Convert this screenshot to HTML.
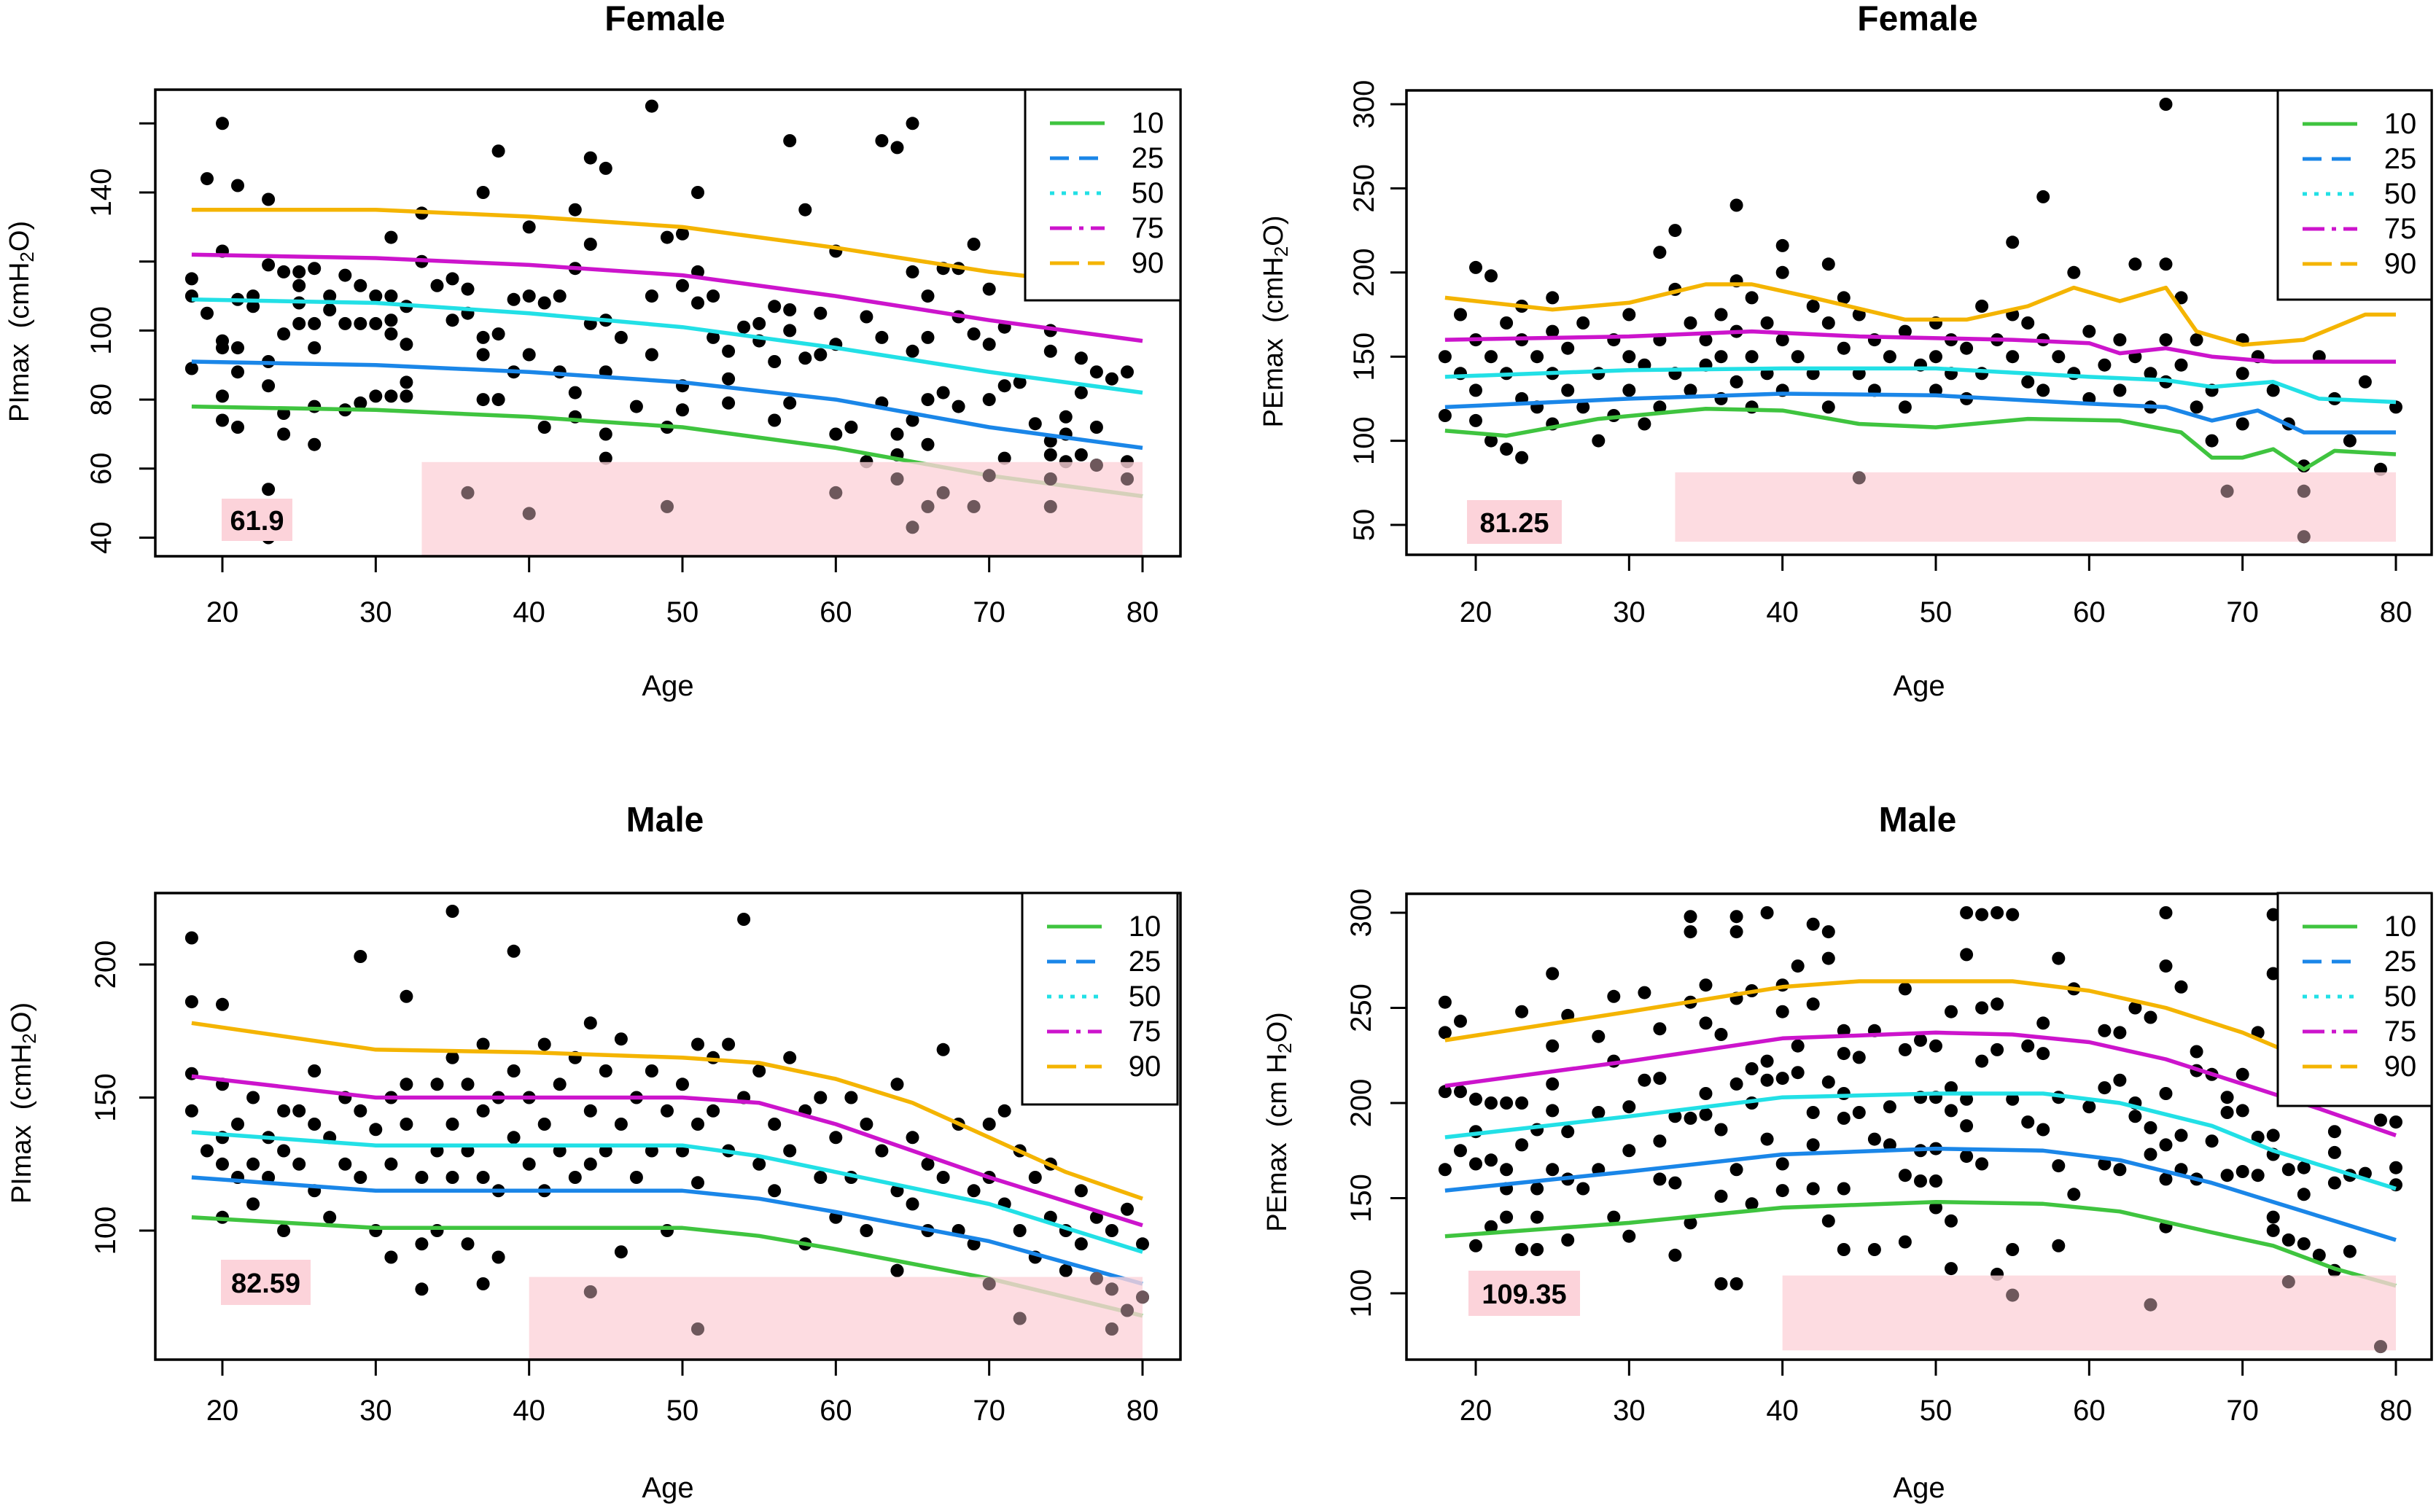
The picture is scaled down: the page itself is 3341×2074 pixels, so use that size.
<!DOCTYPE html>
<html><head><meta charset="utf-8"><style>
html,body{margin:0;padding:0;background:#fff;}
svg{display:block;font-family:"Liberation Sans",Arial,sans-serif;}
</style></head><body>
<svg id="chart" width="3341" height="2074" viewBox="0 0 3341 2074" xmlns="http://www.w3.org/2000/svg"></svg>
<script>
// ---------- DATA ----------
const xTicks = [20,30,40,50,60,70,80];
const percentiles = ["10","25","50","75","90"];

const tlTicks = [40,60,80,100,120,140,160];
const tlTickLabels = ["40","60","80","100","","140",""];
const tlCurveAges = [[18,30,40,50,60,65,70,75,80],[18,30,40,50,60,70,80],[18,30,40,50,60,70,80],[18,30,40,50,60,70,80],[18,30,40,50,60,70,80]];
const tlCurveVals = [[78,77,75,72,66,62,58,55,52],[91,90,88,85,80,72,66],[109,108,105,101,95,88,82],[122,121,119,116,110,103,97],[135,135,133,130,124,117,112]];
const tlPoints = [[18,115],[18,110],[18,89],[19,105],[19,144],[20,160],[20,123],[20,97],[20,95],[20,81],[20,74],[21,142],[21,109],[21,95],[21,72],[21,88],[22,110],[22,107],[23,138],[23,119],[23,91],[23,84],[23,54],[23,40],[24,117],[24,99],[24,76],[24,70],[25,117],[25,113],[25,108],[25,102],[26,118],[26,102],[26,95],[26,78],[26,67],[27,110],[27,106],[28,116],[28,102],[28,77],[29,113],[29,102],[29,79],[30,110],[30,102],[30,81],[31,127],[31,110],[31,103],[31,99],[31,81],[32,107],[32,96],[32,85],[32,81],[33,134],[33,120],[34,113],[35,115],[35,103],[36,112],[36,105],[37,140],[37,98],[37,93],[37,80],[38,152],[38,99],[38,80],[39,109],[39,88],[40,130],[40,110],[40,93],[41,108],[41,72],[42,110],[42,88],[43,135],[43,118],[43,82],[43,75],[44,150],[44,125],[44,102],[45,147],[45,103],[45,88],[45,70],[45,63],[46,98],[47,78],[48,165],[48,110],[48,93],[49,127],[49,72],[50,128],[50,113],[50,84],[50,77],[51,140],[51,117],[51,108],[52,110],[52,98],[53,94],[53,86],[53,79],[54,101],[55,97],[55,102],[56,107],[56,91],[56,74],[57,155],[57,106],[57,100],[57,79],[58,135],[58,92],[59,105],[59,93],[60,96],[60,70],[60,123],[61,72],[62,104],[62,62],[63,155],[63,98],[63,79],[64,153],[64,70],[64,64],[65,160],[65,117],[65,94],[65,74],[66,110],[66,98],[66,80],[66,67],[67,118],[67,82],[68,118],[68,104],[68,78],[69,125],[69,99],[70,112],[70,96],[70,80],[71,101],[71,84],[71,63],[72,85],[73,73],[74,100],[74,94],[74,68],[74,64],[75,75],[75,70],[76,92],[76,82],[76,64],[77,88],[77,72],[78,86],[79,88],[79,62],[36,53],[40,47],[49,49],[60,53],[64,57],[65,43],[66,49],[67,53],[69,49],[70,58],[74,57],[74,49],[79,57],[75,62],[77,61]];

const trTicks = [50,100,150,200,250,300];
const trTickLabels = ["50","100","150","200","250","300"];
const trCurveAges = [[18,22,28,35,40,45,50,56,62,66,68,70,72,74,76,80],[18,30,40,50,60,65,68,71,74,80],[18,30,40,50,60,65,68,72,75,80],[18,30,38,45,55,60,62,65,68,72,80],[18,25,30,35,38,42,48,52,56,59,62,65,67,70,74,78,80]];
const trCurveVals = [[106,103,113,119,118,110,108,113,112,105,90,90,95,83,94,92],[120,125,128,127,122,120,112,118,105,105],[138,142,143,143,138,136,132,135,125,123],[160,162,165,162,160,158,152,155,150,147,147],[185,178,182,193,193,185,172,172,180,191,183,191,165,157,160,175,175]];
const trPoints = [[18,150],[18,115],[19,175],[19,140],[20,203],[20,160],[20,130],[20,112],[21,198],[21,150],[21,100],[22,170],[22,140],[22,95],[23,180],[23,160],[23,125],[23,90],[24,150],[24,120],[25,185],[25,165],[25,140],[25,110],[26,155],[26,130],[27,170],[27,120],[28,140],[28,100],[29,160],[29,115],[30,175],[30,150],[30,130],[31,145],[31,110],[32,212],[32,160],[32,120],[33,225],[33,190],[33,140],[34,170],[34,130],[35,160],[35,145],[36,175],[36,150],[36,125],[37,240],[37,195],[37,165],[37,135],[38,185],[38,150],[38,120],[39,170],[39,140],[40,216],[40,200],[40,160],[40,130],[41,150],[42,180],[42,140],[43,205],[43,170],[43,120],[44,185],[44,155],[45,175],[45,140],[45,78],[46,160],[46,130],[47,150],[48,165],[48,120],[49,145],[50,170],[50,150],[50,130],[51,160],[51,140],[52,155],[52,125],[53,180],[53,140],[54,160],[55,218],[55,175],[55,150],[56,170],[56,135],[57,245],[57,160],[57,130],[58,150],[59,200],[59,140],[60,165],[60,125],[61,145],[62,160],[62,130],[63,205],[63,150],[64,140],[64,120],[65,300],[65,205],[65,160],[65,135],[66,185],[66,145],[67,160],[67,120],[68,130],[68,100],[69,70],[70,160],[70,140],[70,110],[71,150],[72,130],[73,110],[74,85],[74,70],[74,43],[75,150],[76,125],[77,100],[78,135],[79,83],[80,120]];

const blTicks = [100,150,200];
const blTickLabels = ["100","150","200"];
const blCurveAges = [[18,30,50,55,60,70,80],[18,30,50,55,60,70,80],[18,30,50,55,60,70,80],[18,30,50,55,60,65,70,80],[18,30,40,50,55,60,65,70,75,80]];
const blCurveVals = [[105,101,101,98,93,82,68],[120,115,115,112,107,96,80],[137,132,132,128,122,110,92],[158,150,150,148,140,130,120,102],[178,168,167,165,163,157,148,135,122,112]];
const blPoints = [[18,210],[18,186],[18,159],[18,145],[19,130],[20,185],[20,155],[20,135],[20,125],[20,105],[21,140],[21,120],[22,150],[22,125],[22,110],[23,135],[23,120],[24,145],[24,130],[24,100],[25,145],[25,125],[26,160],[26,140],[26,115],[27,135],[27,105],[28,150],[28,125],[29,203],[29,145],[29,120],[30,138],[30,100],[31,150],[31,125],[31,90],[32,188],[32,155],[32,140],[33,120],[33,95],[33,78],[34,155],[34,130],[34,100],[35,220],[35,165],[35,140],[35,120],[36,155],[36,130],[36,95],[37,170],[37,145],[37,120],[37,80],[38,150],[38,115],[38,90],[39,205],[39,160],[39,135],[40,150],[40,125],[41,170],[41,140],[41,115],[42,155],[42,130],[43,165],[43,120],[44,178],[44,145],[44,125],[45,160],[45,130],[46,172],[46,140],[46,92],[47,150],[47,120],[48,160],[48,130],[49,145],[49,100],[50,155],[50,130],[51,170],[51,140],[51,118],[52,165],[52,145],[53,170],[53,130],[54,217],[54,150],[55,160],[55,125],[56,140],[56,115],[57,165],[57,130],[58,145],[58,95],[59,150],[59,120],[60,135],[60,105],[61,150],[61,120],[62,140],[62,100],[63,130],[64,155],[64,115],[64,85],[65,135],[65,110],[66,125],[66,100],[67,168],[67,120],[68,140],[68,100],[69,115],[69,95],[70,140],[70,120],[71,145],[71,110],[72,130],[72,100],[73,120],[73,90],[74,125],[74,105],[75,100],[75,85],[76,115],[76,95],[77,105],[77,82],[78,100],[78,78],[79,108],[79,70],[80,95],[80,75],[44,77],[51,63],[72,67],[78,63],[70,80],[64,85]];

const brTicks = [100,150,200,250,300];
const brTickLabels = ["100","150","200","250","300"];
const brCurveAges = [[18,30,40,50,57,62,68,72,76,80],[18,30,40,50,57,62,68,72,76,80],[18,30,40,50,57,62,68,72,76,80],[18,30,40,50,55,60,65,70,75,80],[18,30,40,45,55,60,65,70,75,80]];
const brCurveVals = [[130,137,145,148,147,143,132,125,113,104],[154,164,173,176,175,170,158,148,138,128],[182,193,203,205,205,200,188,175,165,155],[209,222,234,237,236,232,223,210,197,183],[233,248,261,264,264,259,250,237,220,205]];
const brPoints = [[18,253],[18,237],[18,206],[18,165],[19,243],[19,206],[19,175],[20,202],[20,185],[20,168],[20,125],[21,200],[21,170],[21,135],[22,200],[22,165],[22,155],[22,140],[23,248],[23,200],[23,178],[23,123],[24,186],[24,155],[24,140],[24,123],[25,268],[25,230],[25,210],[25,196],[25,165],[26,246],[26,185],[26,160],[26,128],[27,155],[28,235],[28,195],[28,165],[29,256],[29,222],[29,140],[30,198],[30,175],[30,130],[31,258],[31,212],[32,239],[32,213],[32,180],[32,160],[33,193],[33,158],[33,120],[34,298],[34,290],[34,253],[34,192],[34,137],[35,262],[35,242],[35,205],[35,194],[36,236],[36,186],[36,151],[36,105],[37,298],[37,290],[37,255],[37,210],[37,165],[37,105],[38,259],[38,218],[38,200],[38,147],[39,300],[39,222],[39,212],[39,181],[40,262],[40,248],[40,213],[40,168],[40,154],[41,272],[41,230],[41,216],[42,294],[42,252],[42,195],[42,178],[42,155],[43,290],[43,276],[43,211],[43,138],[44,238],[44,226],[44,205],[44,192],[44,155],[44,123],[45,224],[45,195],[46,238],[46,181],[46,123],[47,198],[47,178],[48,260],[48,228],[48,162],[48,127],[49,233],[49,203],[49,175],[49,159],[50,230],[50,203],[50,176],[50,159],[50,145],[51,248],[51,208],[51,196],[51,138],[51,113],[52,300],[52,278],[52,202],[52,188],[52,172],[53,299],[53,250],[53,222],[53,168],[54,300],[54,252],[54,228],[54,110],[55,299],[55,202],[55,123],[55,99],[56,230],[56,190],[57,242],[57,226],[57,186],[58,276],[58,203],[58,167],[58,125],[59,260],[59,152],[60,198],[61,238],[61,208],[61,168],[62,237],[62,212],[62,165],[63,250],[63,200],[63,193],[64,245],[64,187],[64,173],[64,94],[65,300],[65,272],[65,205],[65,178],[65,160],[65,135],[66,261],[66,183],[66,165],[67,227],[67,217],[67,160],[68,215],[68,180],[69,203],[69,195],[69,162],[70,215],[70,196],[70,164],[71,237],[71,182],[71,162],[72,299],[72,268],[72,183],[72,173],[72,140],[72,133],[73,165],[73,128],[73,106],[74,166],[74,152],[74,126],[75,120],[76,185],[76,174],[76,158],[76,112],[77,162],[77,122],[78,163],[79,191],[79,72],[80,190],[80,166],[80,157]];

const cutoffs = [61.9, 81.25, 82.59, 109.35];
const cutoffLabels = ["61.9","81.25","82.59","109.35"];
const cutoffStartAges = [33, 33, 40, 40];

// ---------- LAYOUT ----------
const NS = "http://www.w3.org/2000/svg";
const svg = document.getElementById("chart");
const colors = ["#3fc43f","#1a86e8","#22e0e6","#cc14cc","#f4b400"];
const dashes = ["none","26 14","6 10","30 10 6 10","40 12"];

const panels = [
 {key:"tl",title:"Female",ylab:"PImax",sub:"cmH",tail:"O)",box:[213,123,1619,763],xa:[20,305,80,1567],ya:[40,737.5,140,264],ticks:tlTicks,tl:tlTickLabels,ca:tlCurveAges,cv:tlCurveVals,pts:tlPoints,leg:[1406,123,1619,412],lab:[304,684,401,742],ylx:27,yly:441,tlx:139,tx:912,ty:26,ax:840,age:941,pb:null},
 {key:"tr",title:"Female",ylab:"PEmax",sub:"cmH",tail:"O)",box:[1929,124,3335,761],xa:[20,2024,80,3286],ya:[50,720,300,143],ticks:trTicks,tl:trTickLabels,ca:trCurveAges,cv:trCurveVals,pts:trPoints,leg:[3124,124,3335,411],lab:[2012,686,2142,746],ylx:1747,yly:441,tlx:1871,tx:2630,ty:26,ax:840,age:941,pb:40},
 {key:"bl",title:"Male",ylab:"PImax",sub:"cmH",tail:"O)",box:[213,1225,1619,1865],xa:[20,305,80,1567],ya:[100,1688,200,1323],ticks:blTicks,tl:blTickLabels,ca:blCurveAges,cv:blCurveVals,pts:blPoints,leg:[1402,1225,1615,1515],lab:[303,1728,426,1790],ylx:30,yly:1513,tlx:145,tx:912,ty:1125,ax:1935,age:2041,pb:null},
 {key:"br",title:"Male",ylab:"PEmax",sub:"cm H",tail:"O)",box:[1929,1226,3335,1865],xa:[20,2024,80,3286],ya:[100,1774,300,1252],ticks:brTicks,tl:brTickLabels,ca:brCurveAges,cv:brCurveVals,pts:brPoints,leg:[3124,1225,3335,1517],lab:[2014,1743,2167,1805],ylx:1752,yly:1539,tlx:1867,tx:2630,ty:1125,ax:1935,age:2041,pb:70}
];

function mk(tag, attrs, parent){
  const e = document.createElementNS(NS, tag);
  for (const k in attrs) e.setAttribute(k, attrs[k]);
  (parent||svg).appendChild(e);
  return e;
}

panels.forEach((p, pi) => {
  const g = mk("g", {});
  
  
  const sx = v => p.xa[1] + (v - p.xa[0]) * (p.xa[3] - p.xa[1]) / (p.xa[2] - p.xa[0]);
  const sy = v => p.ya[1] + (v - p.ya[0]) * (p.ya[3] - p.ya[1]) / (p.ya[2] - p.ya[0]);
  const [x0,y0,x1,y1] = p.box;

  const t = mk("text", {x:p.tx, y:p.ty, "text-anchor":"middle", "dominant-baseline":"central", "font-size":48, "font-weight":"bold"}, g);
  t.textContent = p.title;
  
  

  const pg = mk("g", {fill:"#000"}, g);
  
  
  p.pts.forEach(d => {
    const c = mk("circle", {cx:sx(d[0]).toFixed(1), cy:sy(d[1]).toFixed(1), r:9}, pg);
    
    
  });

  p.ca.forEach((ages, ci) => {
    const pts = ages.map((a, i) => sx(a).toFixed(1) + "," + sy(p.cv[ci][i]).toFixed(1)).join(" ");
    const pl = mk("polyline", {points:pts, fill:"none", stroke:colors[ci], "stroke-width":5.5, "stroke-linejoin":"round"}, g);
    
    
  });

  const cut = cutoffs[pi];
  const bottom = p.pb === null ? y1 : sy(p.pb);
  const rx = sx(cutoffStartAges[pi]), rx2 = sx(80), ry = sy(cut);
  const r = mk("rect", {x:rx, y:ry, width:rx2-rx, height:bottom-ry, fill:"#fcd3da", "fill-opacity":0.8}, g);
  
  
  // points under the overlay appear dark brownish
  const ug = mk("g", {fill:"#6e585c"}, g);
  
  
  p.pts.forEach(d => {
    if (d[0] >= cutoffStartAges[pi] && d[1] <= cut) {
      const c = mk("circle", {cx:sx(d[0]).toFixed(1), cy:sy(d[1]).toFixed(1), r:9}, ug);
      
      
    }
  });

  const lb = mk("rect", {x:p.lab[0], y:p.lab[1], width:p.lab[2]-p.lab[0], height:p.lab[3]-p.lab[1], fill:"#fcd3da"}, g);
  
  
  const lt = mk("text", {x:(p.lab[0]+p.lab[2])/2, y:(p.lab[1]+p.lab[3])/2+2, "text-anchor":"middle", "dominant-baseline":"central", "font-size":38, "font-weight":"bold", "font-family":"'Liberation Sans Narrow','Liberation Sans',sans-serif"}, g);
  lt.textContent = cutoffLabels[pi];
  
  

  const bx = mk("rect", {x:x0, y:y0, width:x1-x0, height:y1-y0, fill:"none", stroke:"#000", "stroke-width":3.5}, g);
  
  

  const xg = mk("g", {}, g);
  
  
  xTicks.forEach(v => {
    mk("line", {x1:sx(v), x2:sx(v), y1:y1, y2:y1+22, stroke:"#000", "stroke-width":3}, xg);
    const tt = mk("text", {x:sx(v), y:p.ax, "text-anchor":"middle", "dominant-baseline":"central", "font-size":40}, xg);
    tt.textContent = v;
    
    
  });
  const at = mk("text", {x:(x0+x1)/2, y:p.age, "text-anchor":"middle", "dominant-baseline":"central", "font-size":40}, g);
  at.textContent = "Age";
  
  

  const yg = mk("g", {}, g);
  
  
  p.ticks.forEach((v, i) => {
    mk("line", {x1:x0-22, x2:x0, y1:sy(v), y2:sy(v), stroke:"#000", "stroke-width":3}, yg);
    if (p.tl[i]) {
      const tt = mk("text", {x:p.tlx, y:sy(v), "text-anchor":"middle", "dominant-baseline":"central", "font-size":40, transform:"rotate(-90 " + p.tlx + " " + sy(v) + ")"}, yg);
      tt.textContent = p.tl[i];
      
      
    }
  });
  const yt = mk("text", {x:p.ylx, y:p.yly, "text-anchor":"middle", "dominant-baseline":"central", "font-size":38, transform:"rotate(-90 " + p.ylx + " " + p.yly + ")"}, g);
  
  
  yt.appendChild(document.createTextNode(p.ylab + " \u00a0(" + p.sub));
  const ts = mk("tspan", {"font-size":26, dy:10}, yt); ts.textContent = "2";
  const tr = mk("tspan", {dy:-10}, yt); tr.textContent = p.tail;

  const [lx0,ly0,lx1,ly1] = p.leg;
  const lg = mk("g", {}, g);
  
  
  mk("rect", {x:lx0, y:ly0, width:lx1-lx0, height:ly1-ly0, fill:"#fff", stroke:"#000", "stroke-width":3}, lg);
  percentiles.forEach((name, i) => {
    const yy = ly0 + 46 + i*48;
    const e = mk("g", {}, lg);
    
    
    mk("line", {x1:lx0+34, x2:lx0+109, y1:yy, y2:yy, stroke:colors[i], "stroke-width":5, "stroke-dasharray":dashes[i]}, e);
    const tx = mk("text", {x:lx0+168, y:yy, "text-anchor":"middle", "dominant-baseline":"central", "font-size":40}, e);
    tx.textContent = name;
  });
});
</script>
</body></html>
